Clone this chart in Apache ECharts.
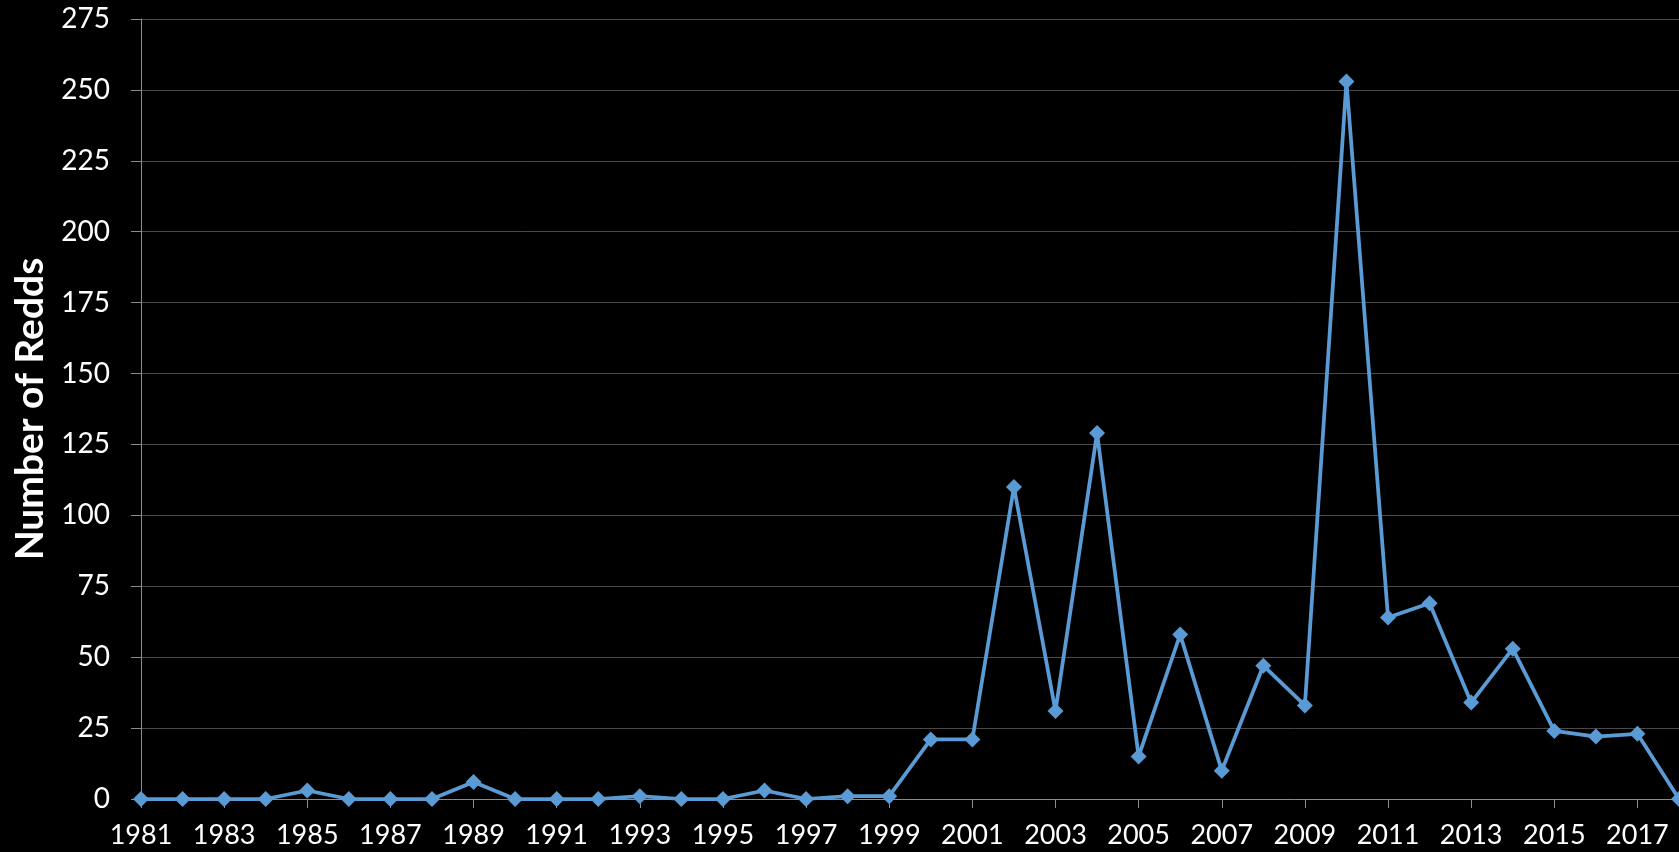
<!DOCTYPE html>
<html>
<head>
<meta charset="utf-8">
<script src="https://cdn.jsdelivr.net/npm/echarts@6/dist/echarts.min.js"></script>
<style>
  html, body { margin: 0; padding: 0; background: #000; }
  #chart { width: 1679px; height: 852px; }
</style>
</head>
<body>
<div id="chart"></div>
<script>
const years = [
  "1981", "1982", "1983", "1984", "1985", "1986", "1987", "1988", "1989", "1990",
  "1991", "1992", "1993", "1994", "1995", "1996", "1997", "1998", "1999", "2000",
  "2001", "2002", "2003", "2004", "2005", "2006", "2007", "2008", "2009", "2010",
  "2011", "2012", "2013", "2014", "2015", "2016", "2017", "2018",
];
const redds = [
  0, 0, 0, 0, 3, 0, 0, 0, 6, 0,
  0, 0, 1, 0, 0, 3, 0, 1, 1, 21,
  21, 110, 31, 129, 15, 58, 10, 47, 33, 253,
  64, 69, 34, 53, 24, 22, 23, 0,
];
const yTitle = "Number of Redds";

const myChart = echarts.init(document.getElementById("chart"));
const options = {
  backgroundColor: "#000000",
  animation: false,
  grid: {
    left: 141,
    right: 0,
    top: 19,
    bottom: 53,
    outerBoundsMode: "none",
    containLabel: false,
  },
  textStyle: {
    fontFamily: "Lato",
    color: "#ffffff",
  },
  xAxis: {
    type: "category",
    data: years,
    boundaryGap: false,
    axisLine: {
      lineStyle: { color: "#8c8c8c", width: 1 },
    },
    axisTick: {
      interval: 1,
      length: 9,
      lineStyle: { color: "#8c8c8c" },
    },
    axisLabel: {
      interval: 1,
      color: "#ffffff",
      fontSize: 27,
      fontFamily: "Lato",
      margin: 23,
    },
    splitLine: { show: false },
  },
  yAxis: {
    type: "value",
    min: 0,
    max: 275,
    interval: 25,
    name: yTitle,
    nameLocation: "middle",
    nameGap: 91,
    nameTextStyle: {
      color: "#ffffff",
      fontSize: 39,
      fontWeight: "bold",
      fontFamily: "Lato",
    },
    axisLine: {
      show: true,
      lineStyle: { color: "#8c8c8c", width: 1 },
    },
    axisTick: {
      show: true,
      length: 10,
      lineStyle: { color: "#8c8c8c" },
    },
    axisLabel: {
      color: "#ffffff",
      fontSize: 28,
      fontFamily: "Lato",
      margin: 31,
    },
    splitLine: {
      show: true,
      lineStyle: { color: "#4a4a4a", width: 1 },
    },
  },
  series: [
    {
      name: yTitle,
      type: "line",
      data: redds,
      symbol: "diamond",
      symbolSize: 16,
      itemStyle: { color: "#5b9bd5" },
      lineStyle: { color: "#5b9bd5", width: 3.75 },
      clip: false,
    },
  ],
};
myChart.setOption(options, true);
</script>
</body>
</html>
